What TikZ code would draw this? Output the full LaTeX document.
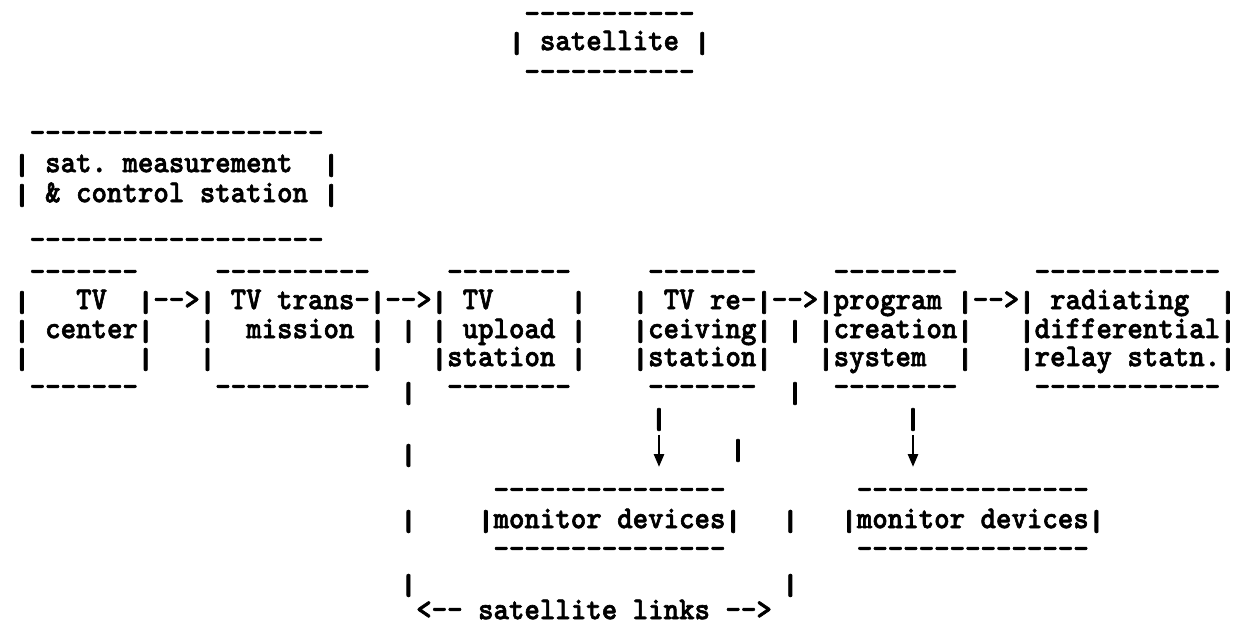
\documentclass[tikz,border=0pt]{standalone}
\usepackage{graphicx}
\usetikzlibrary{arrows.meta}
\ExplSyntaxOn
\cs_new:Npn \dashrun #1 {\prg_replicate:nn{#1}{-{}}}
\ExplSyntaxOff
\suppressfontnotfounderror=1
\font\tyf="[lmmonolt10-bold]:embolden=2" at 29.45pt
\suppressfontnotfounderror=0
\ifx\tyf\nullfont
  \def\tyfont{\fontsize{29.45}{30}\selectfont\ttfamily\bfseries}
\else
  \def\tyfont{\tyf}
\fi
% a vertical bar of the typewriter: fixed advance, centred on the x-height
\newcommand\vb{\makebox[0.525em]{\raisebox{-0.15em}{\raisebox{\depth}{\resizebox*{0.68em}{0.72em}{|}}}}}
\tikzset{
 txt/.style={anchor=mid west, inner sep=0pt, outer sep=0pt, font=\tyfont\frenchspacing},
 cbar/.style={txt, anchor=mid},
 darr/.style={line width=2.6pt, -{Triangle[length=13pt,width=10pt]}},
}
\newcommand\seg[4]{\node[txt] (#1) at ({14.27+15.46*(#2)},{-(#3)}) {\scalebox{1}[1.08]{#4}};}
\begin{document}
\begin{tikzpicture}[x=1pt,y=1pt]
\useasboundingbox[fill=white] (0,0) rectangle (1238,-632);
% satellite
\seg{satT}{33}{21}{\dashrun{11}}
\seg{sat}{32}{48}{\vb{} satellite \vb}
\seg{satB}{33}{79}{\dashrun{11}}
% measurement and control station
\seg{measT}{1}{140}{\dashrun{19}}
\seg{measA}{0}{170}{\vb{} sat. measurement}
\seg{measAr}{20}{170}{\vb}
\seg{measB}{0}{200}{\vb{} \& control station \vb}
\seg{measD}{1}{247}{\dashrun{19}}
% top dashes of the station boxes
\seg{tvcT}{1}{279}{\dashrun{7}}
\seg{trT}{13}{279}{\dashrun{10}}
\seg{upT}{28}{279}{\dashrun{8}}
\seg{rcT}{41}{279}{\dashrun{7}}
\seg{prT}{53}{279}{\dashrun{8}}
\seg{raT}{66}{279}{\dashrun{12}}
% row 1
\seg{ra1}{0}{307}{\vb}
\seg{rb1}{4}{307}{TV}
\seg{rc1}{8}{307}{\vb-{}->\vb{} TV trans-\vb-{}->\vb{} TV}
\seg{rd1}{36}{307}{\vb}
\seg{re1}{40}{307}{\vb{} TV re-\vb-{}->\vb{}program \vb-{}->\vb{} radiating}
\seg{rf1}{78}{307}{\vb}
% row 2
\seg{ra2}{0}{336}{\vb{} center\vb}
\seg{rb2}{12}{336}{\vb}
\seg{rc2}{15}{336}{mission \vb{} \vb{} \vb{} upload \vb}
\seg{rd2}{40}{336}{\vb{}ceiving\vb{} \vb{} \vb{}creation\vb}
\seg{re2}{65}{336}{\vb{}differential\vb}
% row 3
\seg{ra3}{0}{364}{\vb}
\seg{rb3}{8}{364}{\vb}
\seg{rc3}{12}{364}{\vb}
\seg{rd3}{23}{364}{\vb}
\seg{re3}{27}{364}{\vb{}station \vb}
\seg{rf3}{40}{364}{\vb{}station\vb}
\seg{rg3}{52}{364}{\vb{}system}
\seg{rh3}{61}{364}{\vb}
\seg{ri3}{65}{364}{\vb{}relay statn.\vb}
% bottom dashes
\seg{tvcB}{1}{394}{\dashrun{7}}
\seg{trB}{13}{394}{\dashrun{10}}
\seg{lkL1}{25}{398}{\vb}
\seg{upB}{28}{394}{\dashrun{8}}
\seg{rcB}{41}{394}{\dashrun{7}}
\seg{lkR1}{50}{398}{\vb}
\seg{prB}{53}{394}{\dashrun{8}}
\seg{raB}{66}{394}{\dashrun{12}}
% stems and arrows
\node[cbar] (stemA) at (659,-424) {\scalebox{1}[1.08]{\vb}};
\node[cbar] (stemB) at (913,-424) {\scalebox{1}[1.08]{\vb}};
\coordinate (tipA) at (659,-467);
\coordinate (tipB) at (913,-467);
\draw[darr] ([yshift=-4pt]stemA.south) -- (tipA);
\draw[darr] ([yshift=-4pt]stemB.south) -- (tipB);
\seg{lkL2}{25}{460}{\vb}
\node[cbar] (lkR2) at (738,-455) {\scalebox{1}[1.08]{\vb}};
% monitor devices
\seg{mAT}{31}{497}{\dashrun{15}}
\seg{mA}{30}{526}{\vb{}monitor devices\vb}
\seg{mAB}{31}{556}{\dashrun{15}}
\seg{lkL3}{25}{526}{\vb}
\seg{lkR3}{49.7}{526}{\vb}
\seg{mBT}{54.5}{497}{\dashrun{15}}
\seg{mB}{53.5}{526}{\vb{}monitor devices\vb}
\seg{mBB}{54.5}{556}{\dashrun{15}}
% satellite links
\seg{lkL4}{25}{590}{\vb}
\seg{lkR4}{49.7}{590}{\vb}
\seg{links}{26}{617}{<-{}- satellite links -{}->}
\end{tikzpicture}
\end{document}
